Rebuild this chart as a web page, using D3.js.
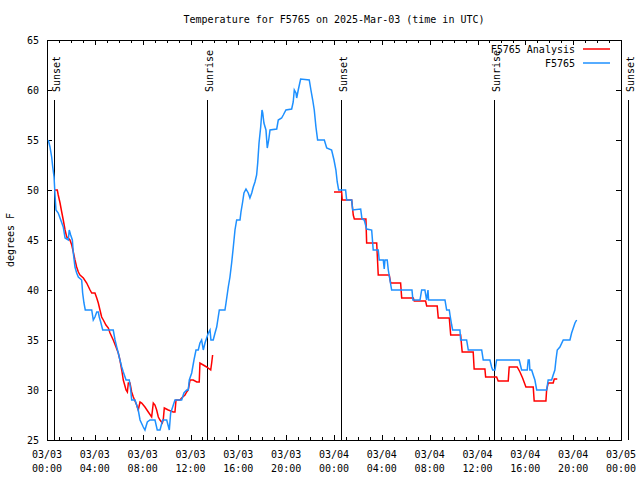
<!DOCTYPE html>
<html><head><meta charset="utf-8">
<script src="https://cdn.jsdelivr.net/npm/d3@7"></script>
<style>
html,body{margin:0;padding:0;background:#fff;}
svg{display:block;}
text{font-family:"DejaVu Sans Mono","Liberation Mono",monospace;font-size:10px;fill:#000;}
</style></head><body>
<svg id="chart" width="640" height="480"></svg>
<script>
// ---- data (hours since 2025-03-03 00:00 UTC) ----
const obsHours = [0.11,0.25,0.39,0.48,0.59,0.67,0.75,0.94,1.15,1.36,1.51,1.78,1.86,1.98,2.12,2.20,2.34,2.48,2.62,2.90,2.98,3.09,3.20,3.74,3.87,4.01,4.16,4.29,4.37,4.49,4.66,5.54,5.69,5.83,5.96,6.10,6.25,6.38,6.61,6.88,7.00,7.08,7.36,7.63,7.78,8.05,8.19,8.39,8.61,9.03,9.22,9.45,9.67,10.01,10.23,10.34,10.51,10.70,11.26,11.45,11.68,11.81,11.90,12.10,12.29,12.46,12.65,12.79,12.93,13.07,13.21,13.35,13.49,13.63,13.71,13.90,14.05,14.19,14.32,14.41,14.88,14.97,15.16,15.30,15.44,15.58,15.72,15.86,16.14,16.22,16.36,16.47,16.64,16.83,16.97,17.12,17.25,17.39,17.53,17.62,17.73,17.87,17.98,18.04,18.14,18.31,18.42,18.54,18.65,19.21,19.34,19.62,19.76,19.98,20.46,20.59,20.68,20.82,20.88,21.01,21.21,21.93,22.07,22.22,22.35,22.49,22.63,23.19,23.39,23.80,24.00,24.16,24.27,24.39,24.97,25.06,25.48,25.56,26.23,26.34,26.53,26.73,27.15,27.28,27.70,27.78,28.12,28.20,28.26,28.45,28.54,28.68,28.82,30.52,30.60,31.19,31.33,31.60,31.74,31.80,31.86,31.91,32.02,33.28,33.42,33.64,33.70,33.84,33.92,34.53,34.59,35.09,35.23,36.35,36.48,37.04,37.18,37.27,37.46,37.60,39.49,39.69,40.16,40.24,40.33,40.38,40.53,40.66,40.80,40.95,41.78,41.91,42.20,42.33,42.47,42.56,42.67,42.89,43.17,43.73,43.87,44.01,44.15,44.29];
const obsTemps = [55,54.3,53.3,52.3,51.3,49.5,48,47.7,47,46.3,45.2,45,46,45.5,45,43.7,42.3,41.7,41.3,41,39.7,38.7,38,38,37,37.3,37.8,37.8,37.3,36.8,36,36,35,34.3,33.7,33,32.3,31.8,31,31,30,29,29,28,27,26.3,26,26.8,27,27,26,26,27,27,26,27.7,28.3,29,29,29.7,30,30,31,31.7,33,34,34,34.7,35,34,34.7,35.2,35.7,36,35,35,35.7,36.3,37.3,38,38,38.7,40.3,41.3,42.7,44.3,46,47,47,47.8,48.8,49.7,50.1,49.7,49.2,49.7,50.3,50.8,51.5,52.7,54.7,56.3,58,57.7,56.7,56,54.2,55,56,56.1,57,57.2,57.5,58,58.1,58.8,60,59.7,59.2,60,61.1,61,60,59,58,56.3,55,55,54.2,54,53,52,50.8,50,50,49,49,48,48.1,47.1,47,46.1,46,44,44,43,43,42.1,43,43,42,41,40,40,39,39,40,40,39,39.5,40,39,39,39,38,38,37.5,36.5,36,36,35,35,34,34,33,33,32.3,32,32,33,33,32,32,33,33,32,32,31.5,31,30,30,31,31,31.5,32,33,34,34.3,35,35,35.7,36.2,36.7,37];

const anaHours = [0.67,0.86,0.94,1.09,1.23,1.36,1.51,1.65,1.78,1.92,2.07,2.20,2.34,2.48,2.62,2.76,3.04,3.32,3.60,3.74,4.01,4.16,4.29,4.43,4.57,4.71,4.93,5.13,5.27,5.54,5.77,5.96,6.10,6.25,6.38,6.61,6.72,6.80,6.94,7.08,7.22,7.50,7.63,7.78,7.92,8.19,8.47,8.75,8.89,9.03,9.17,9.31,9.45,9.64,9.72,9.81,10.14,10.56,10.70,10.79,11.12,11.26,11.54,11.68,11.81,11.96,12.23,12.52,12.73,12.79,13.07,13.35,13.69,13.77,13.85,
  null,
  24.00,24.64,24.69,25.48,25.61,25.70,26.67,26.73,27.57,27.70,28.62,28.74,29.57,29.66,30.63,30.71,31.66,31.75,32.63,32.72,33.64,33.76,34.59,34.72,35.64,35.72,36.62,36.68,37.60,37.73,38.57,38.65,39.32,39.55,39.77,40.05,40.66,40.74,41.72,41.78,41.91,42.33,42.42,42.67];
const anaTemps = [50,50,49.5,48.7,47.8,47,46,45.3,45.2,45,44.5,43.8,43,42.3,41.8,41.5,41.2,40.7,40,39.7,39.7,39.2,38.7,38,37.3,37,36.5,36.2,35.7,35,34.3,33.7,33,32,31,30,29.8,30.7,30.7,29.8,29.3,28.5,28,28.8,28.7,28.3,27.8,27.3,28.7,28.5,28,27.3,27,26.7,27,28.2,28,27.8,27.8,29,29,29.2,29.5,29.8,30,31,31,30.8,30.8,32.7,32.5,32.3,32,32.7,33.5,
  null,
  49.8,49.8,49,49,47.5,47.1,47.1,44.7,44.7,41.5,41.5,40.7,40.7,39.2,39.2,38.9,38.9,38.4,38.4,37.2,37.2,35.5,35.5,33.8,33.8,32.1,32.1,31.3,31.3,30.9,30.9,32.3,32.3,31.8,31.2,30.3,30.3,28.9,28.9,30,30.7,30.7,31.1,31.1];

const sunHours = [0.6, 13.4, 24.6, 37.4, 48.6];
const sunLabels = ["Sunset","Sunrise","Sunset","Sunrise","Sunset"];

const xMajorTicks = [0,4,8,12,16,20,24,28,32,36,40,44,48];
const xTickDates = ["03/03","03/03","03/03","03/03","03/03","03/03","03/04","03/04","03/04","03/04","03/04","03/04","03/05"];
const xTickTimes = ["00:00","04:00","08:00","12:00","16:00","20:00","00:00","04:00","08:00","12:00","16:00","20:00","00:00"];
const yTicks = [25,30,35,40,45,50,55,60,65];

const seriesNames = ["F5765 Analysis","F5765"];
const seriesColors = ["#ff0000","#1e90ff"];

// ---- layout ----
const L = 47, R = 621, T = 40, B = 440;
const svg = d3.select("#chart");
const x = d3.scaleLinear().domain([0,48]).range([L,R]);
const y = d3.scaleLinear().domain([25,65]).range([B,T]);
const minorTicks = d3.range(0,49,1);

// title
svg.append("text").attr("x",334).attr("y",23).attr("text-anchor","middle")
  .text("Temperature for F5765 on 2025-Mar-03 (time in UTC)");

// y axis label
svg.append("text").attr("transform","translate(14,240) rotate(-90)")
  .attr("text-anchor","middle").text("degrees F");

// axes (ticks inward)
const gB = svg.append("g").attr("transform",`translate(0,${B})`);
gB.call(d3.axisBottom(x).tickValues(minorTicks).tickSize(-3).tickFormat(""));
const gB2 = svg.append("g").attr("transform",`translate(0,${B})`);
gB2.call(d3.axisBottom(x).tickValues(xMajorTicks).tickSize(-5).tickFormat(""));
const gT = svg.append("g").attr("transform",`translate(0,${T})`);
gT.call(d3.axisTop(x).tickValues(minorTicks).tickSize(-3).tickFormat(""));
const gT2 = svg.append("g").attr("transform",`translate(0,${T})`);
gT2.call(d3.axisTop(x).tickValues(xMajorTicks).tickSize(-5).tickFormat(""));
const gL = svg.append("g").attr("transform",`translate(${L},0)`);
gL.call(d3.axisLeft(y).tickValues(yTicks).tickSize(-5).tickPadding(8).tickFormat(d3.format("d")));
const gR = svg.append("g").attr("transform",`translate(${R},0)`);
gR.call(d3.axisRight(y).tickValues(yTicks).tickSize(-5).tickFormat(""));
svg.selectAll(".domain").remove();
svg.selectAll(".tick line").attr("stroke","#000").attr("shape-rendering","crispEdges");
gL.selectAll(".tick text").attr("font-family","DejaVu Sans Mono").attr("font-size","10px").attr("fill","#000");

// x tick labels (two lines)
const xl = svg.append("g");
xMajorTicks.forEach((h,i)=>{
  const t = xl.append("text").attr("text-anchor","middle");
  t.append("tspan").attr("x",x(h)).attr("y",458).text(xTickDates[i]);
  t.append("tspan").attr("x",x(h)).attr("y",472).text(xTickTimes[i]);
});

// border
svg.append("rect").attr("x",L).attr("y",T).attr("width",R-L).attr("height",B-T)
  .attr("fill","none").attr("stroke","#000").attr("shape-rendering","crispEdges");

// sun lines
sunHours.forEach((h,i)=>{
  const xx = Math.round(x(h))+0.5;
  svg.append("line").attr("x1",xx).attr("x2",xx).attr("y1",100).attr("y2",B)
    .attr("stroke","#000").attr("stroke-width",1);
  svg.append("text").attr("transform",`translate(${xx+5},92) rotate(-90)`)
    .attr("text-anchor","start").text(sunLabels[i]);
});

// series
const ana = anaHours.map((h,i)=>({h, v: anaTemps[i]}));
const obs = obsHours.map((h,i)=>({h, v: obsTemps[i]}));
const line = d3.line().defined(d=>d.h!==null && d.v!==null).x(d=>x(d.h)).y(d=>y(d.v));
svg.append("path").datum(ana).attr("d",line).attr("fill","none")
  .attr("stroke",seriesColors[0]).attr("stroke-width",1.5);
svg.append("path").datum(obs).attr("d",line).attr("fill","none")
  .attr("stroke",seriesColors[1]).attr("stroke-width",1.5);

// legend
seriesNames.forEach((n,i)=>{
  const yy = 49 + i*14;
  svg.append("text").attr("x",575).attr("y",yy+4).attr("text-anchor","end").text(n);
  svg.append("line").attr("x1",583).attr("x2",610).attr("y1",yy).attr("y2",yy)
    .attr("stroke",seriesColors[i]).attr("stroke-width",1.5);
});
</script>
</body></html>
